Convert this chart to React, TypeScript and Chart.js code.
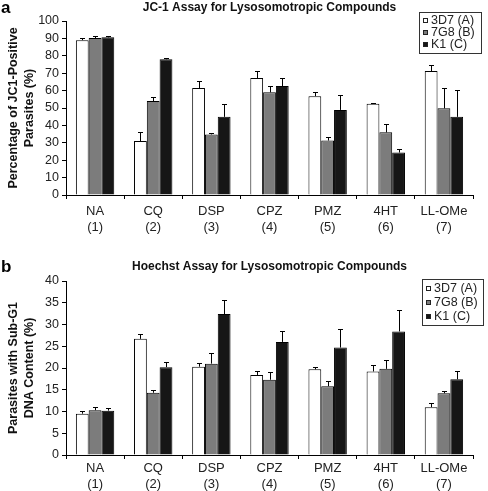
import React, { useEffect, useRef } from 'react';
import { Chart, registerables } from 'chart.js';

Chart.register(...registerables);

// ---------- data ----------
const categories = [
  ['NA', '(1)'],
  ['CQ', '(2)'],
  ['DSP', '(3)'],
  ['CPZ', '(4)'],
  ['PMZ', '(5)'],
  ['4HT', '(6)'],
  ['LL-OMe', '(7)'],
];
const seriesNames = ['3D7 (A)', '7G8 (B)', 'K1 (C)'];

// Panel a: JC-1 assay (% JC1-positive parasites)
const jc1_3D7 = [89.0, 31.0, 61.5, 67.2, 56.8, 52.5, 71.2];
const jc1_3D7_err = [1.5, 5.0, 4.3, 3.8, 2.3, 0.6, 3.3];
const jc1_7G8 = [90.2, 54.0, 34.8, 59.0, 31.3, 36.0, 49.8];
const jc1_7G8_err = [1.2, 2.3, 1.1, 3.8, 2.0, 5.0, 11.5];
const jc1_K1 = [90.6, 78.0, 44.9, 62.6, 48.9, 24.4, 44.9];
const jc1_K1_err = [0.7, 0.6, 7.5, 4.4, 8.4, 2.1, 15.5];
const jc1Ticks = { min: 0, max: 100, step: 10 };

// Panel b: Hoechst assay (% parasites with sub-G1 DNA content)
const hoe_3D7 = [9.5, 26.7, 20.3, 18.4, 19.7, 19.2, 11.0];
const hoe_3D7_err = [0.7, 1.1, 0.9, 1.0, 0.6, 1.6, 0.9];
const hoe_7G8 = [10.3, 14.3, 21.0, 17.3, 15.8, 19.8, 14.2];
const hoe_7G8_err = [0.7, 0.7, 2.5, 1.7, 1.2, 2.0, 0.4];
const hoe_K1 = [10.2, 20.2, 32.4, 26.0, 24.7, 28.4, 17.4];
const hoe_K1_err = [0.7, 1.2, 3.2, 2.5, 4.2, 4.9, 1.8];
const hoeTicks = { min: 0, max: 40, step: 5 };

const FONT = "'Liberation Sans', Arial, Helvetica, sans-serif";
const fills = ['#ffffff', '#7c7c7c', '#161616'];

type PanelProps = {
  letter: string;
  title: string;
  yTitle: string[];
  values: number[][];
  errors: number[][];
  ticks: { min: number; max: number; step: number };
  width: number;
  height: number;
  top: number;
  padTop: number;
  xHeight: number;
  xPad: number;
  letterY: number;
  titleY: number;
  legend: { x: number; y: number; w: number; h: number; row: number };
};

const errorBarPlugin = {
  id: 'errorBars',
  afterDatasetsDraw(chart: any) {
    const ctx = chart.ctx;
    const yScale = chart.scales.y;
    ctx.save();
    ctx.strokeStyle = '#000';
    ctx.lineWidth = 1;
    chart.data.datasets.forEach((ds: any, i: number) => {
      const meta = chart.getDatasetMeta(i);
      meta.data.forEach((el: any, j: number) => {
        const v = ds.data[j];
        const e = ds.errors[j];
        const x = Math.round(el.x) + 0.5;
        const y0 = yScale.getPixelForValue(v);
        const y1 = Math.round(yScale.getPixelForValue(v + e)) + 0.5;
        ctx.beginPath();
        ctx.moveTo(x, y0);
        ctx.lineTo(x, y1);
        ctx.moveTo(x - 2.5, y1);
        ctx.lineTo(x + 2.5, y1);
        ctx.stroke();
      });
    });
    ctx.restore();
  },
};

const decorPlugin = {
  id: 'decor',
  afterDraw(chart: any, _args: any, opts: any) {
    const ctx = chart.ctx;
    const area = chart.chartArea;
    ctx.save();
    // panel letter
    ctx.fillStyle = '#000';
    ctx.font = `bold 17px ${FONT}`;
    ctx.textAlign = 'left';
    ctx.textBaseline = 'alphabetic';
    ctx.fillText(opts.letter, 1, opts.letterY);
    // title
    ctx.font = `bold 12px ${FONT}`;
    ctx.textAlign = 'center';
    ctx.textBaseline = 'middle';
    ctx.fillStyle = '#111';
    ctx.fillText(opts.title, (area.left + area.right) / 2, opts.titleY);
    // legend
    const L = opts.legend;
    ctx.fillStyle = '#fff';
    ctx.fillRect(L.x, L.y, L.w, L.h);
    ctx.strokeStyle = '#333';
    ctx.lineWidth = 1;
    ctx.strokeRect(L.x + 0.5, L.y + 0.5, L.w, L.h);
    ctx.font = `12.5px ${FONT}`;
    ctx.textAlign = 'left';
    ctx.textBaseline = 'middle';
    chart.data.datasets.forEach((ds: any, i: number) => {
      const cy = L.y + L.h / 2 + (i - 1) * L.row;
      ctx.fillStyle = ds.backgroundColor;
      ctx.fillRect(L.x + 4, Math.round(cy - 2.5), 5, 5);
      ctx.strokeStyle = '#222';
      ctx.strokeRect(L.x + 4.5, Math.round(cy - 2.5) + 0.5, 4, 4);
      ctx.fillStyle = '#222';
      ctx.fillText(ds.label, L.x + 12, cy + 0.5);
    });
    ctx.restore();
  },
};

function Panel(p: PanelProps) {
  const ref = useRef<HTMLCanvasElement | null>(null);
  useEffect(() => {
    if (!ref.current) return;
    const chart = new Chart(ref.current, {
      type: 'bar',
      data: {
        labels: categories,
        datasets: seriesNames.map((name, i) => ({
          label: name,
          data: p.values[i],
          errors: p.errors[i],
          backgroundColor: fills[i],
          borderColor: '#000',
          borderWidth: 1,
          categoryPercentage: 0.66,
          barPercentage: 1.0,
        })) as any,
      },
      options: {
        responsive: false,
        animation: false,
        events: [],
        layout: { padding: { top: p.padTop, right: 15, left: 0, bottom: 0 } },
        plugins: {
          legend: { display: false },
          title: { display: false },
          tooltip: { enabled: false },
          decor: {
            letter: p.letter,
            title: p.title,
            letterY: p.letterY,
            titleY: p.titleY,
            legend: p.legend,
          },
        } as any,
        scales: {
          x: {
            offset: true,
            grid: {
              display: true,
              offset: true,
              drawOnChartArea: false,
              drawTicks: true,
              tickLength: 4,
              color: '#000',
            },
            border: { display: true, color: '#000', width: 1 },
            ticks: {
              color: '#222',
              font: { family: FONT, size: 13, lineHeight: 1.25 },
              padding: p.xPad,
              maxRotation: 0,
              autoSkip: false,
            },
            afterFit: (s: any) => {
              s.height = p.xHeight;
            },
          },
          y: {
            min: p.ticks.min,
            max: p.ticks.max,
            grid: {
              display: true,
              drawOnChartArea: false,
              drawTicks: true,
              tickLength: 4,
              color: '#000',
            },
            border: { display: true, color: '#000', width: 1 },
            ticks: {
              stepSize: p.ticks.step,
              color: '#222',
              font: { family: FONT, size: 12.5, lineHeight: 1.1 },
              padding: 3,
              autoSkip: false,
              maxTicksLimit: 12,
            },
            title: {
              display: true,
              text: p.yTitle,
              color: '#111',
              font: { family: FONT, size: 12.5, weight: 'bold', lineHeight: 1.3 },
              padding: { top: 5, bottom: 0 },
            },
            afterFit: (s: any) => {
              s.width = 66;
            },
          },
        },
      },
      plugins: [errorBarPlugin, decorPlugin],
    } as any);
    return () => chart.destroy();
  }, []);
  return (
    <canvas
      ref={ref}
      width={p.width}
      height={p.height}
      style={{
        position: 'absolute',
        left: 0,
        top: p.top,
        width: p.width,
        height: p.height,
        display: 'block',
      }}
    />
  );
}

export default function App() {
  return (
    <div
      style={{
        position: 'fixed',
        left: 0,
        top: 0,
        width: 488,
        height: 491,
        background: '#fff',
        overflow: 'hidden',
      }}
    >
      <Panel
        letter="a"
        title="JC-1 Assay for Lysosomotropic Compounds"
        yTitle={['Percentage of JC1-Positive', 'Parasites (%)']}
        values={[jc1_3D7, jc1_7G8, jc1_K1]}
        errors={[jc1_3D7_err, jc1_7G8_err, jc1_K1_err]}
        ticks={jc1Ticks}
        width={488}
        height={245}
        top={0}
        padTop={21}
        xHeight={50}
        xPad={4}
        letterY={13}
        titleY={8}
        legend={{ x: 419, y: 12, w: 62, h: 41, row: 12 }}
      />
      <Panel
        letter="b"
        title="Hoechst Assay for Lysosomotropic Compounds"
        yTitle={['Parasites with Sub-G1', 'DNA Content (%)']}
        values={[hoe_3D7, hoe_7G8, hoe_K1]}
        errors={[hoe_3D7_err, hoe_7G8_err, hoe_K1_err]}
        ticks={hoeTicks}
        width={488}
        height={243}
        top={248}
        padTop={33}
        xHeight={36}
        xPad={1}
        letterY={24}
        titleY={19}
        legend={{ x: 422, y: 31, w: 61, h: 46, row: 14 }}
      />
    </div>
  );
}
